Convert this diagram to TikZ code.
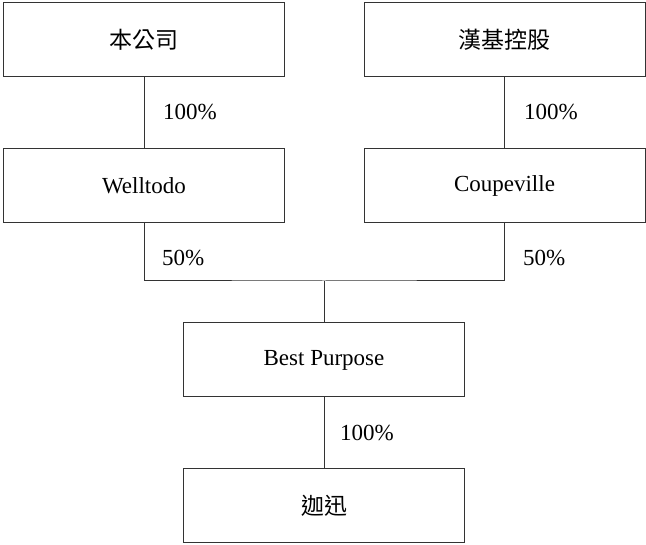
\documentclass[tikz,border=0pt]{standalone}
\usepackage{fontspec}
\setmainfont{Liberation Serif}
\newfontfamily\cjk{Noto Sans CJK TC}
\begin{document}
\begin{tikzpicture}[x=1pt,y=-1pt,
  box/.style={draw=black!80, line width=1pt, minimum width=281pt, minimum height=74pt, inner sep=0pt, font=\fontsize{23}{26}\selectfont},
  lbl/.style={anchor=west, inner sep=0pt, font=\fontsize{23}{26}\selectfont},
  con/.style={draw=black!80, line width=1pt}]
\useasboundingbox (0,0) rectangle (646,545);
\node[box] (a) at (144,40) {{\cjk 本公司}};
\node[box] (b) at (504.5,40) {{\cjk 漢基控股}};
\node[box] (c) at (144,185.5) {Welltodo};
\node[box] (d) at (504.5,185.5) {Coupeville};
\node[box] (e) at (324,360) {Best Purpose};
\node[box] (f) at (324,505.5) {{\cjk 迦迅}};
\coordinate (j) at (324,281);
\draw[con] (a) -- (c);
\draw[con] (b) -- (d);
\draw[con] (c.south) |- (j) -| (d.south);
\draw[con] (j) -- (e.north);
\draw[con] (e) -- (f);
\node[lbl] (l1) at (163,112) {100\%};
\node[lbl] (l2) at (524,112) {100\%};
\node[lbl] (l3) at (162,258) {50\%};
\node[lbl] (l4) at (523,258) {50\%};
\node[lbl] (l5) at (340,433) {100\%};
\end{tikzpicture}
\end{document}
